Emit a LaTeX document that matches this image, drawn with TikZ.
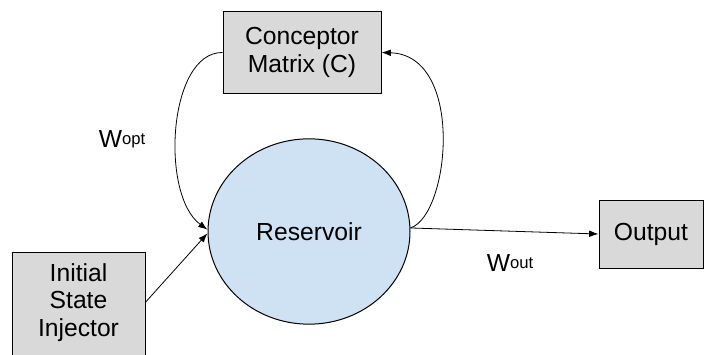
\documentclass[tikz,border=0pt]{standalone}
\usepackage{fontspec}
\setmainfont{Liberation Sans}
\usepackage{tikz}
\usetikzlibrary{positioning,arrows.meta,shapes.geometric}
\usepackage{xcolor}
\definecolor{boxgray}{HTML}{D9D9D9}
\definecolor{resblue}{HTML}{CFE2F3}
\newcommand{\wlabel}[1]{W\raisebox{2.5pt}{\fontsize{12.5pt}{14pt}\selectfont #1}}

\begin{document}
\begin{tikzpicture}[x=0.75pt,y=-0.75pt,>={Latex[length=7pt,width=5pt]},
  font=\fontsize{18.5pt}{20.6pt}\selectfont,
  block/.style={draw,fill=boxgray,line width=0.75pt,align=center,inner sep=0pt}]
\useasboundingbox (0,0) rectangle (704,354);
\node[block,minimum width=118.5pt,minimum height=62pt] (conc) at (302,52.5) {Conceptor\\Matrix (C)};
\node[draw,fill=resblue,ellipse,line width=0.75pt,minimum width=151.5pt,minimum height=139pt,inner sep=0pt] (res) at (309,231.5) {Reservoir};
\node[block,minimum width=78pt,minimum height=51pt] (out) at (651,234) {Output};
% injector box runs off the bottom edge
\draw[fill=boxgray,line width=0.75pt] (12,252) rectangle (145,364);
\node[align=center,minimum width=99.75pt,minimum height=76pt,inner sep=0pt] (init) at (78.5,302.5) {Initial\\State\\Injector};
\draw[->,line width=0.6pt] (conc.west) .. controls (168,52) and (160,195) .. (res.179);
\draw[->,line width=0.6pt] (res.2) .. controls (450,215) and (465,55) .. (conc.east);
\draw[->,line width=0.6pt] (init.east) -- (res.181);
\draw[->,line width=0.6pt] (res.2) -- (out.west);
\node (wopt) at (122,139) {\wlabel{opt}};
\node (wout) at (510,263) {\wlabel{out}};
\end{tikzpicture}
\end{document}
